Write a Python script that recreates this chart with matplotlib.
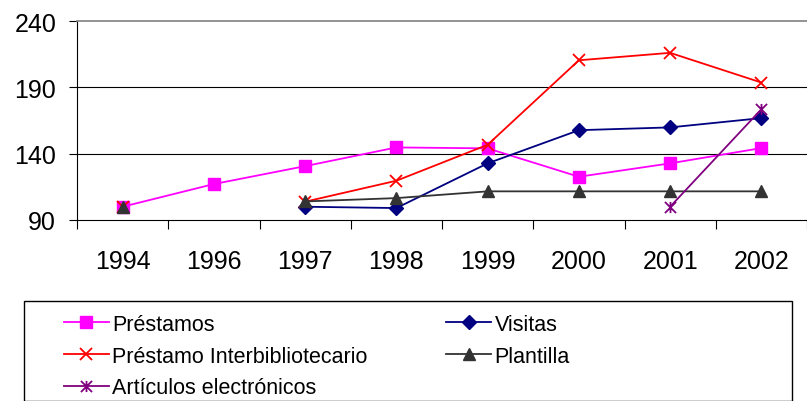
import numpy as np
import matplotlib.pyplot as plt
from matplotlib.path import Path
from matplotlib.patches import Rectangle

plt.rcParams["font.family"] = ["Liberation Sans", "DejaVu Sans"]

years = ["1994", "1996", "1997", "1998", "1999", "2000", "2001", "2002"]
nan = np.nan
prestamos = [100, 117.1, 130.6, 144.7, 144.0, 122.6, 132.7, 144.2]
visitas = [nan, nan, 100, 99, 132.7, 157.7, 159.8, 166.8]
interbib = [100, nan, 103.8, 119.6, 146.7, 210.4, 216.0, 193.6]
plantilla = [100, nan, 104, 106.5, 111.6, 111.6, 111.6, 111.6]
articulos = [nan, nan, nan, nan, nan, nan, 100, 173.5]

# excel-style star: X plus a vertical bar
star = Path([(-1, -1), (1, 1), (-1, 1), (1, -1), (0, -1), (0, 1)],
            [Path.MOVETO, Path.LINETO, Path.MOVETO, Path.LINETO, Path.MOVETO, Path.LINETO])

fig = plt.figure(figsize=(8.07, 4.02), dpi=100)
ax = fig.add_axes([77 / 807, 1 - 221 / 402, 730 / 807, 199 / 402])

x = np.arange(len(years))
lw = 1.3
l1, = ax.plot(x, prestamos, color="#FF00FF", lw=lw, marker="s", ms=8.5, label="Préstamos")
l2, = ax.plot(x, visitas, color="#000080", lw=lw, marker="D", ms=7, label="Visitas")
l3, = ax.plot(x, interbib, color="#FF0000", lw=lw, marker="x", ms=8.5, mew=1.3,
              label="Préstamo Interbibliotecario")
l4, = ax.plot(x, plantilla, color="#333333", lw=lw, marker="^", ms=9, label="Plantilla")
l5, = ax.plot(x, articulos, color="#800080", lw=lw, marker=star, ms=8, mew=1.3,
              label="Artículos electrónicos")

ax.set_xlim(-0.5, len(years) - 0.5)
ax.set_ylim(90, 240)
ax.set_yticks([90, 140, 190, 240])
ax.set_xticks(np.arange(len(years) + 1) - 0.5)
ax.set_xticklabels([])
ax.set_xticks(x, minor=True)
ax.set_xticklabels(years, minor=True)
ax.tick_params(axis="x", which="major", direction="out", length=6.5, width=0.8, color="black")
ax.tick_params(axis="x", which="minor", length=0, pad=21, labelsize=18)
ax.tick_params(axis="y", direction="out", length=6, width=0.8, pad=9, labelsize=18)

for v in [140, 190]:
    ax.axhline(v, color="black", lw=0.8, zorder=0)
ax.spines["top"].set_color("#808080")
ax.spines["top"].set_linewidth(1.2)
ax.spines["right"].set_visible(False)
ax.spines["left"].set_linewidth(0.8)
ax.spines["bottom"].set_linewidth(0.8)

# legend frame drawn separately so columns can sit where excel put them
fig.patches.append(Rectangle((24 / 807, 0), (792 - 24) / 807, 1 - 302 / 402,
                             transform=fig.transFigure, fill=False,
                             edgecolor="black", lw=1.0, clip_on=False))
fig.legend([l1, l3, l5, l2, l4],
           [l1.get_label(), l3.get_label(), l5.get_label(), l2.get_label(), l4.get_label()],
           ncol=2, loc="upper left", bbox_to_anchor=(53 / 807, 1 - 304 / 402),
           frameon=False, fontsize=15.5, numpoints=1, handlelength=2.1,
           handletextpad=0.15, columnspacing=3.65, labelspacing=0.5, borderpad=0)

fig.savefig("out.png", dpi=100)
